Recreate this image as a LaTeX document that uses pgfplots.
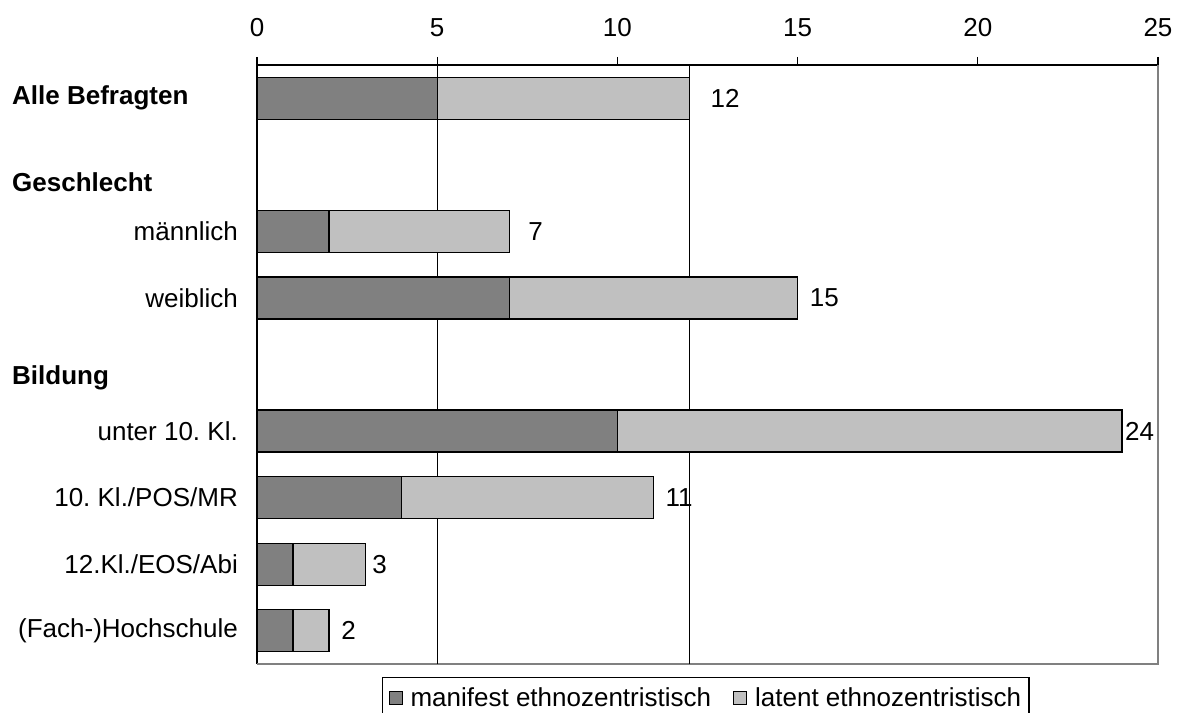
\documentclass[border=0pt]{standalone}
\usepackage{pgfplots}
\pgfplotsset{compat=1.18}
\usepackage{fontspec}
\setmainfont{Liberation Sans}
\frenchspacing
\definecolor{manif}{HTML}{808080}
\definecolor{lat}{HTML}{C0C0C0}
\pgfplotsset{sqleg/.style={legend image code/.code={\draw[##1,line width=1pt] (0pt,-6.5pt) rectangle (13pt,6.5pt);}}}
\begin{document}
\begin{tikzpicture}
\begin{axis}[
  scale only axis, width=901pt, height=599pt,
  xmin=0, xmax=25, ymin=-0.5, ymax=8.5,
  xbar stacked, bar width=42pt,
  axis x line*=top, axis y line*=left,
  axis line style={line width=1.2pt, black},
  xtick={0,5,10,15,20,25}, tick align=outside, major tick length=8pt,
  x tick style={line width=1.2pt, black},
  ytick={0,1,2,3,5,6}, y tick style={draw=none},
  yticklabels={(Fach-)Hochschule,12.Kl./EOS/Abi,10. Kl./POS/MR,unter 10. Kl.,weiblich,männlich},
  font=\fontsize{26}{30}\selectfont,
  /pgf/number format/assume math mode=true,
  xticklabel style={inner sep=0pt, yshift=20pt},
  yticklabel style={inner sep=0pt, xshift=-11pt},
  legend style={at={(0.1387,-0.0217)}, anchor=north west, legend columns=-1,
    draw=black, line width=1.2pt, font=\fontsize{26}{30}\selectfont,
    inner xsep=6pt, inner ysep=8pt,
    /tikz/every odd column/.append style={column sep=6pt},
    /tikz/every even column/.append style={column sep=20pt}},
  clip=false,
]
\addplot[fill=manif, draw=black, line width=1.2pt, sqleg]
  coordinates {(5,8) (2,6) (7,5) (10,3) (4,2) (1,1) (1,0)};
\addlegendentry{manifest ethnozentristisch}
\addplot[fill=lat, draw=black, line width=1.2pt, sqleg]
  coordinates {(7,8) (5,6) (8,5) (14,3) (7,2) (2,1) (1,0)};
\addlegendentry{latent ethnozentristisch}
\draw[line width=1.2pt] (axis cs:5,-0.5) -- (axis cs:5,8.5);
\draw[line width=1.2pt] (axis cs:12,-0.5) -- (axis cs:12,8.5);
\draw[line width=1.2pt, manif] (rel axis cs:0,0) -- (rel axis cs:1,0) -- (rel axis cs:1,1);
\node[anchor=west, inner sep=0pt, xshift=21pt] at (axis cs:12,8) {12};
\node[anchor=west, inner sep=0pt, xshift=19pt] at (axis cs:7,6) {7};
\node[anchor=west, inner sep=0pt, xshift=12pt] at (axis cs:15,5) {15};
\node[anchor=west, inner sep=0pt, xshift=3pt] at (axis cs:24,3) {24};
\node[anchor=west, inner sep=0pt, xshift=12pt] at (axis cs:11,2) {11};
\node[anchor=west, inner sep=0pt, xshift=7pt] at (axis cs:3,1) {3};
\node[anchor=west, inner sep=0pt, xshift=12pt] at (axis cs:2,0) {2};
\node[anchor=west, inner sep=0pt, xshift=-245pt, font=\fontsize{26}{30}\selectfont\bfseries] at (axis cs:0,8) {Alle Befragten};
\node[anchor=west, inner sep=0pt, xshift=-245pt, font=\fontsize{26}{30}\selectfont\bfseries] at (axis cs:0,6.74) {Geschlecht};
\node[anchor=west, inner sep=0pt, xshift=-245pt, font=\fontsize{26}{30}\selectfont\bfseries] at (axis cs:0,3.80) {Bildung};
\end{axis}
\pgfresetboundingbox
\path ([xshift=-257pt,yshift=-49pt]current axis.south west) rectangle ([xshift=28pt,yshift=65pt]current axis.north east);
\end{tikzpicture}
\end{document}
